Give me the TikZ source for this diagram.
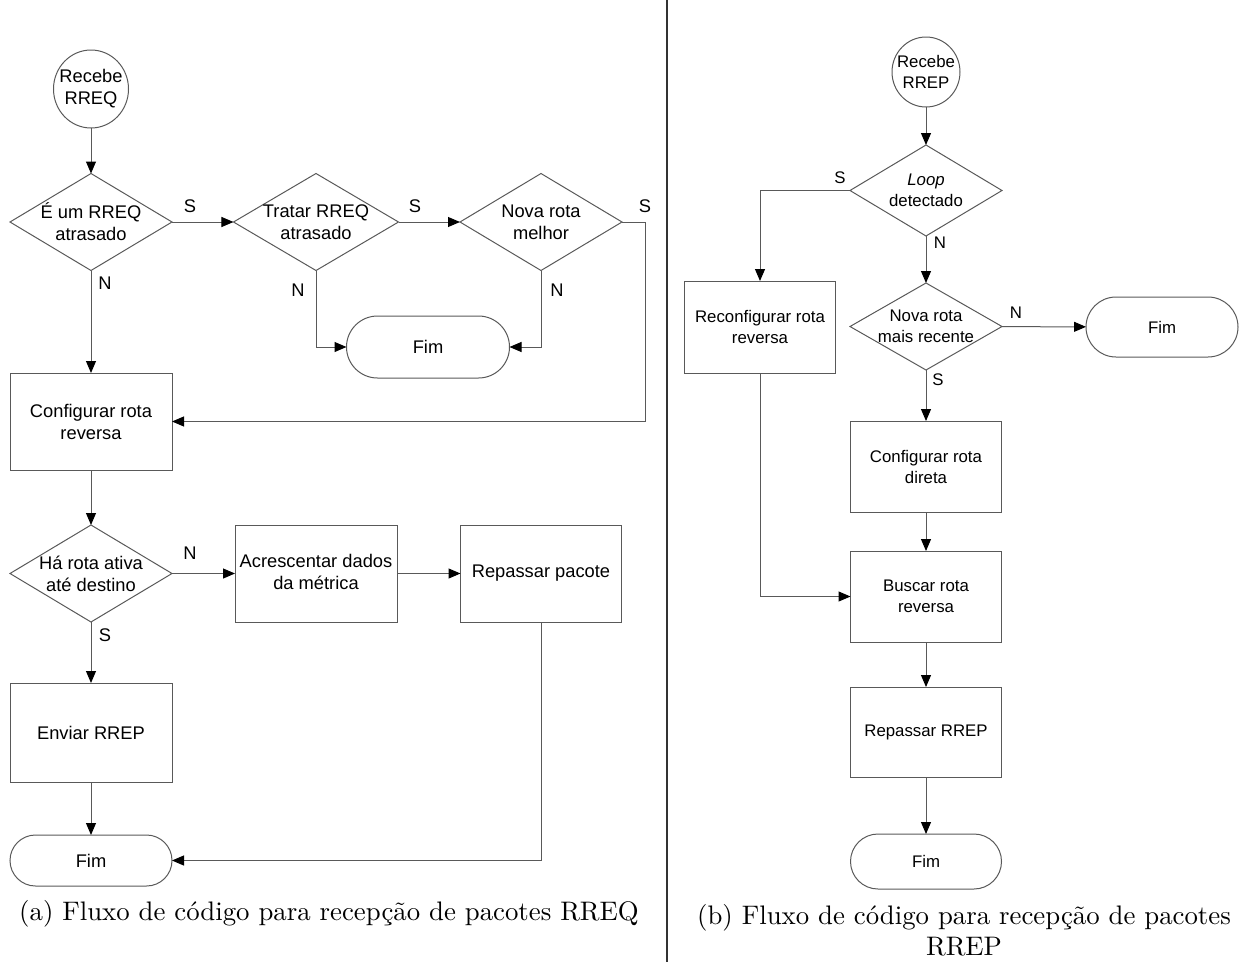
\documentclass[tikz,border=0pt]{standalone}
\usepackage{fontspec}
\newfontfamily\arialf{Liberation Sans}
\newfontfamily\capf{lmroman10-regular.otf}
\usetikzlibrary{shapes.geometric,shapes.misc,arrows.meta}
\newcommand\lfnt{\arialf\fontsize{18.3}{22}\selectfont}
\newcommand\rfnt{\arialf\fontsize{16.8}{21}\selectfont}
\newcommand\capfnt{\capf\fontsize{26.8}{31}\selectfont}
\tikzset{
  ln/.style={draw=black!65, line width=1pt},
  arr/.style={ln, -{Triangle[length=12pt,width=10pt,color=black]}},
  shp/.style={draw=black!65, line width=1pt, inner sep=0pt, outer sep=0pt},
  box/.style={shp, rectangle},
  dia/.style={shp, diamond},
  term/.style={shp, rounded rectangle},
  circ/.style={shp, ellipse},
  ltxt/.style={font=\lfnt, align=center, inner sep=0pt},
  rtxt/.style={font=\rfnt, align=center, inner sep=0pt},
  sz/.style 2 args={minimum width=#1pt, minimum height=#2pt},
}
\begin{document}
\begin{tikzpicture}[x=1pt,y=-1pt]
\useasboundingbox (0,0) rectangle (1248,962);
% ---------------- left panel ----------------
\node[circ, sz={75}{78}] (c1) at (91,89) {};
\node[ltxt] (c1t) at (c1) {Recebe\\RREQ};
\node[dia, sz={162}{97}] (d1) at (91,222) {};
\node[ltxt] (d1t) at (d1) {É um RREQ\\atrasado};
\node[dia, sz={165}{97}] (d2) at (316,222) {};
\node[ltxt] (d2t) at (d2) {Tratar RREQ\\atrasado};
\node[dia, sz={162}{97}] (d3) at (541,222) {};
\node[ltxt] (d3t) at (d3) {Nova rota\\melhor};
\node[term, sz={163}{62}] (f1) at (428,347) {};
\node[ltxt] (f1t) at (f1) {Fim};
\node[box, sz={162}{97}] (r1) at (91,421.5) {};
\node[ltxt] (r1t) at (r1) {Configurar rota\\reversa};
\node[dia, sz={162}{97}] (d4) at (91,573.5) {};
\node[ltxt] (d4t) at (d4) {Há rota ativa\\até destino};
\node[box, sz={162}{97}] (r2) at (316,573.5) {};
\node[ltxt] (r2t) at (316,572) {Acrescentar dados\\da métrica};
\node[box, sz={161}{97}] (r3) at (541,573.5) {};
\node[ltxt] (r3t) at (r3) {Repassar pacote};
\node[box, sz={162}{99}] (r4) at (91,732.5) {};
\node[ltxt] (r4t) at (r4) {Enviar RREP};
\node[term, sz={162}{51}] (f2) at (91,860.5) {};
\node[ltxt] (f2t) at (f2) {Fim};
\coordinate (k1) at (645,222);
\draw[arr] (c1) -- (d1);
\draw[arr] (d1) -- (d2);
\draw[arr] (d2) -- (d3);
\draw[arr] (d3.east) -- (k1) |- (r1.east);
\draw[arr] (d1) -- (r1);
\draw[arr] (d2.south) |- (f1.west);
\draw[arr] (d3.south) |- (f1.east);
\draw[arr] (r1) -- (d4);
\draw[arr] (d4) -- (r2);
\draw[arr] (r2) -- (r3);
\draw[arr] (r3.south) |- (f2.east);
\draw[arr] (d4) -- (r4);
\draw[arr] (r4) -- (f2);
\node[ltxt] (la1) at (190,206) {S};
\node[ltxt] (la2) at (415,206) {S};
\node[ltxt] (la3) at (645,206) {S};
\node[ltxt] (la4) at (105,283) {N};
\node[ltxt] (la5) at (298,290) {N};
\node[ltxt] (la6) at (557,290) {N};
\node[ltxt] (la7) at (190,553) {N};
\node[ltxt] (la8) at (105,635) {S};
\node[font=\capfnt, inner sep=0pt] (capA) at (329,914) {(a) Fluxo de código para recepção de pacotes RREQ};
% ---------------- separator ----------------
\coordinate (sepT) at (667,0);
\coordinate (sepB) at (667,962);
\draw[line width=1.5pt, black!80] (sepT) -- (sepB);
% ---------------- right panel ----------------
\node[circ, sz={68}{70}] (c2) at (926,72) {};
\node[rtxt] (c2t) at (c2) {Recebe\\RREP};
\node[dia, sz={152}{91}] (e1) at (926,190.5) {};
\node[rtxt] (e1t) at (e1) {\itshape Loop\\detectado};
\node[dia, sz={152}{87}] (e2) at (926,326.5) {};
\node[rtxt] (e2t) at (e2) {Nova rota\\mais recente};
\node[term, sz={152}{60}] (f3) at (1162,327) {};
\node[rtxt] (f3t) at (f3) {Fim};
\node[box, sz={151}{92}] (s1) at (760,327) {};
\node[rtxt] (s1t) at (s1) {Reconfigurar rota\\reversa};
\node[box, sz={151}{91}] (s2) at (926,466.5) {};
\node[rtxt] (s2t) at (s2) {Configurar rota\\direta};
\node[box, sz={151}{91}] (s3) at (926,596.5) {};
\node[rtxt] (s3t) at (s3) {Buscar rota\\reversa};
\node[box, sz={151}{90}] (s4) at (926,732) {};
\node[rtxt] (s4t) at (s4) {Repassar RREP};
\node[term, sz={151}{55}] (f4) at (926,861.5) {};
\node[rtxt] (f4t) at (f4) {Fim};
\draw[arr] (c2) -- (e1);
\draw[arr] (e1.west) -| (s1.north);
\draw[arr] (e1) -- (e2);
\draw[arr] (e2) -- (f3);
\draw[arr] (e2) -- (s2);
\draw[arr] (s2) -- (s3);
\draw[arr] (s1.south) |- (s3.west);
\draw[arr] (s3) -- (s4);
\draw[arr] (s4) -- (f4);
\node[rtxt] (lb1) at (840,178) {S};
\node[rtxt] (lb2) at (940,243) {N};
\node[rtxt] (lb3) at (1016,313) {N};
\node[rtxt] (lb4) at (938,380) {S};
\node[font=\capfnt, align=center, inner sep=0pt] (capB) at (964,930) {(b) Fluxo de código para recepção de pacotes\\RREP};
\end{tikzpicture}
\end{document}
